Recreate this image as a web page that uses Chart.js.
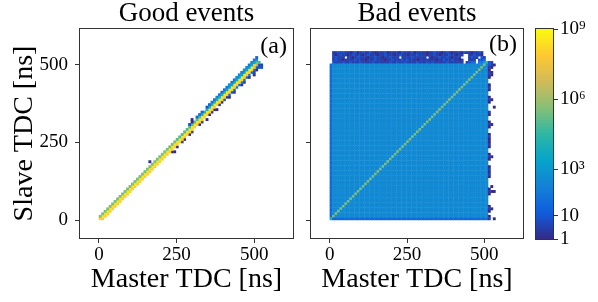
<!DOCTYPE html>
<html>
<head>
<meta charset="utf-8">
<script src="https://cdn.jsdelivr.net/npm/chart.js@4.4.1/dist/chart.umd.min.js"></script>
<style>
  html, body { margin: 0; padding: 0; background: #fff; }
  #wrap { position: relative; width: 598px; height: 302px; }
  canvas { position: absolute; top: 0; }
</style>
</head>
<body>
<div id="wrap">
  <canvas id="good" width="300" height="302" style="left:0px"></canvas>
  <canvas id="bad" width="230" height="302" style="left:300px"></canvas>
  <canvas id="cbar" width="68" height="302" style="left:530px"></canvas>
</div>
<script>
// TDC bin width [ns]
const binNs = 8;

// counts per bin as half-decade codes: a = 1, b = 10^0.5, c = 10, ... s = 10^9
// '.' = empty bin, "f63" = code f repeated 63 times
const levelCodes = 'abcdefghijklmnopqrs';

// (a) good events, one string per diagonal: index = master bin, slave bin = master bin + offset
const goodOffsets = [-4, -3, -2, -1, 0, 1, 2, 3];
const goodDiagM4 = '.62 a .2 c';
const goodDiagM3 = '.30 a .12 a .3 a .4 a . b .2 a b . a . b a c b';
const goodDiagM2 = '.29 a.a.ba.ab..ab..aba.ba cbdcdedeed eddcb';
const goodDiagM1 = '. q61 p m j';
const goodDiag0 = 'q r61 q l';
const goodDiagP1 = 'l31 k10 i10 h12 g';
const goodDiagP2 = '.36 ca.ded.cdeefedeefeeffeffefed';
const goodDiagP3 = '.20 a .16 a';
const goodDiagonals = [goodDiagM4, goodDiagM3, goodDiagM2, goodDiagM1, goodDiag0, goodDiagP1, goodDiagP2, goodDiagP3];

// (b) bad events, rows from slave bin 67 (top) down to 0, index = master bin
const badRows = [
  '. bbcbcbbabc abcbbcbabb bcabbbbacb bbcabbbbab bcbbabcbab bbacbbabbc b',
  '. babcbbabcb bbabcbbbab bcbbbabcbb abbbcbbbab bcbabbbcbb abb..bbcbb a',
  '. bcbbb.bbab cbbbabbcbb abbcbbb.bb bbcbbbbb.b abbcbbcbab bb...bcbb. cb',
  '. bcbbabbbbc bbbabbbcbb babbcbbbcb cbbbabbbbb bbabbcbbcb bab..bbb.c cd',
  '. cbbbcbbcbb bcbbbbcbbb bbbcbbcbbc bbbbcbbbcb cbbbbbcbbb bbb.bcdd.e eggcb',
  'd f63 cba', 'd f63 ba.', 'd f63 a..', 'd f63 ba.', 'd f63 ba.', 'd f63 a..',
  'd f63 ...', 'd f63 ...', 'd f63 a..', 'd f63 b..', 'd f63 a..', 'd f63 ...',
  'd f63 ...', 'd f63 a..', 'd f63 ba.', 'd f63 a..', 'd f63 ...', 'd f63 ..a',
  'd f63 ...', 'd f63 b..', 'd f63 a..', 'd f63 ...', 'd f63 ...', 'd f63 a..',
  'd f63 ba.', 'd f63 a..', 'd f63 ...', 'd f63 ...', 'd f63 a..', 'd f63 b..',
  'd f63 a..', 'd f63 a..', 'd f63 b..', 'd f63 a..', 'd f63 ...', 'd f63 ...',
  'd f63 a..', 'd f63 ba.', 'd f63 a..', 'd f63 ...', 'd f63 ...', 'd f63 a..',
  'd f63 b..', 'd f63 a..', 'd f63 b..', 'd f63 a..', 'd f63 ...', 'd f63 ...',
  'd f63 ...', 'd f63 .a.', 'd f63 a..', 'd f63 baa', 'd f63 a..', 'd f63 ...',
  'd f63 ...', 'd f63 ...', 'd f63 ...', 'd f63 a..', 'd f63 ba.', 'd f63 a..',
  'd f63 ...', 'd f63 a..',
  'd64 b.a'
];
// master == slave line in (b)
const badDiag = 'i l62 j';

const xTicks = [0, 250, 500];
const yTicks = [0, 250, 500];
const cbarTicks = [1, 10, 1e3, 1e6, 1e9];
const cbarLabels = ['1', '10', '10³', '10⁶', '10⁹'];

const parula = ['#352a87', '#0f5cdd', '#1481d6', '#06a4ca', '#2eb7a4', '#87bf77', '#d1bb59', '#fec832', '#f9fb0e'];

const serif = '"Liberation Serif", "Times New Roman", serif';

function expand(code) {
  return code.replace(/\s+/g, '').replace(/([a-s.])(\d+)/g, (m, c, n) => c.repeat(+n));
}

function countOf(ch) {
  return Math.pow(10, levelCodes.indexOf(ch) / 2);
}

function hexRgb(h) {
  return [1, 3, 5].map(k => parseInt(h.slice(k, k + 2), 16));
}

function cmap(t) {
  t = Math.max(0, Math.min(1, t)) * (parula.length - 1);
  const k = Math.min(Math.floor(t), parula.length - 2);
  const f = t - k;
  const a = hexRgb(parula[k]), b = hexRgb(parula[k + 1]);
  const c = a.map((v, n) => Math.round(v + (b[n] - v) * f));
  return `rgb(${c[0]},${c[1]},${c[2]})`;
}

function cell(i, j, ch) {
  return { x: i * binNs + binNs / 2, y: j * binNs + binNs / 2, v: countOf(ch) };
}

const goodCells = [];
goodOffsets.forEach((off, k) => {
  [...expand(goodDiagonals[k])].forEach((ch, i) => {
    const j = i + off;
    if (ch === '.' || j < 0) return;
    goodCells.push(cell(i, j, ch));
  });
});

const badCells = [];
const diagCodes = expand(badDiag);
badRows.forEach((row, r) => {
  const j = badRows.length - 1 - r;
  [...expand(row)].forEach((ch, i) => {
    if (i === j && diagCodes[i] && diagCodes[i] !== '.') ch = diagCodes[i];
    if (ch === '.') return;
    badCells.push(cell(i, j, ch));
  });
});

const frame = {
  id: 'frame',
  afterDatasetsDraw(chart) {
    const { ctx, chartArea: a } = chart;
    const l = Math.round(a.left), t = Math.round(a.top);
    const r = Math.round(a.right), b = Math.round(a.bottom);
    ctx.save();
    ctx.strokeStyle = '#333';
    ctx.lineWidth = 1;
    ctx.strokeRect(l - 0.5, t - 0.5, r - l + 1, b - t + 1);
    ctx.restore();
  }
};

function tag(text, dy) {
  return {
    id: 'tag',
    afterDraw(chart) {
      const { ctx, chartArea: a } = chart;
      ctx.save();
      ctx.font = '24px ' + serif;
      ctx.fillStyle = '#000';
      ctx.textAlign = 'right';
      ctx.textBaseline = 'middle';
      ctx.fillText(text, a.right - 6, a.top + dy);
      ctx.restore();
    }
  };
}

function cellRadius(ctx) {
  const s = ctx.chart.scales.x;
  return Math.abs(s.getPixelForValue(binNs) - s.getPixelForValue(0)) * Math.SQRT1_2 + 0.3;
}

function panel(id, title, label, cells, yAxisWidth, showY, dy) {
  return new Chart(document.getElementById(id), {
    type: 'scatter',
    data: {
      datasets: [{
        data: cells,
        xAxisID: 'x',
        yAxisID: 'y',
        pointStyle: 'rect',
        pointBackgroundColor: cells.map(c => cmap(Math.log10(c.v) / 9)),
        pointBorderWidth: 0,
        pointRadius: cellRadius
      }]
    },
    options: {
      responsive: false,
      animation: false,
      events: [],
      layout: { padding: { left: 0, right: 7, top: 0, bottom: 0 } },
      plugins: {
        legend: { display: false },
        tooltip: { enabled: false }
      },
      scales: {
        x: {
          type: 'linear',
          min: -61,
          max: 625,
          afterFit: s => { s.height = 64; },
          afterBuildTicks: s => { s.ticks = xTicks.map(v => ({ value: v })); },
          grid: { drawOnChartArea: false, tickLength: 5, color: '#333' },
          border: { display: false },
          ticks: { color: '#000', padding: 1, maxRotation: 0, font: { family: serif, size: 19 } },
          title: {
            display: true,
            text: 'Master TDC [ns]',
            color: '#000',
            padding: { top: 0, bottom: 6 },
            font: { family: serif, size: 28 }
          }
        },
        y: {
          type: 'linear',
          min: -58,
          max: 616,
          afterFit: s => { s.width = yAxisWidth; },
          afterBuildTicks: s => { s.ticks = yTicks.map(v => ({ value: v })); },
          grid: { drawOnChartArea: false, tickLength: 5, color: '#333' },
          border: { display: false },
          ticks: { display: showY, color: '#000', padding: 7, font: { family: serif, size: 19 } },
          title: {
            display: showY,
            text: 'Slave TDC [ns]',
            color: '#000',
            padding: { top: 8, bottom: 0 },
            font: { family: serif, size: 28 }
          }
        },
        // top axis only carries the panel title, centred over the plot box
        top: {
          type: 'linear',
          position: 'top',
          afterFit: s => { s.height = 29; },
          grid: { display: false },
          border: { display: false },
          ticks: { display: false },
          title: {
            display: true,
            text: title,
            color: '#000',
            padding: 0,
            font: { family: serif, size: 27, lineHeight: 1 }
          }
        }
      }
    },
    plugins: [frame, tag(label, dy)]
  });
}

panel('good', 'Good events', '(a)', goodCells, 80, true, 18);
panel('bad', 'Bad events', '(b)', badCells, 11, false, 16);

new Chart(document.getElementById('cbar'), {
  type: 'bar',
  data: {
    labels: [''],
    datasets: [{
      data: [[cbarTicks[0], cbarTicks[cbarTicks.length - 1]]],
      borderWidth: 0,
      barPercentage: 1,
      categoryPercentage: 1,
      backgroundColor: ctx => {
        const a = ctx.chart.chartArea;
        if (!a) return parula[0];
        const g = ctx.chart.ctx.createLinearGradient(0, a.bottom, 0, a.top);
        parula.forEach((c, k) => g.addColorStop(k / (parula.length - 1), c));
        return g;
      }
    }]
  },
  options: {
    responsive: false,
    animation: false,
    events: [],
    layout: { padding: { left: 6, right: 0, top: 29, bottom: 63 } },
    plugins: { legend: { display: false }, tooltip: { enabled: false } },
    scales: {
      x: { display: false },
      y: {
        type: 'logarithmic',
        position: 'right',
        min: 1,
        max: 1e9,
        afterFit: s => { s.width = 45; },
        afterBuildTicks: s => { s.ticks = cbarTicks.map(v => ({ value: v })); },
        grid: { drawOnChartArea: false, tickLength: 5, color: '#333' },
        border: { display: false },
        ticks: {
          color: '#000',
          padding: 2,
          font: { family: serif, size: 19 },
          callback: v => cbarLabels[cbarTicks.indexOf(v)]
        }
      }
    }
  },
  plugins: [frame]
});
</script>
</body>
</html>
